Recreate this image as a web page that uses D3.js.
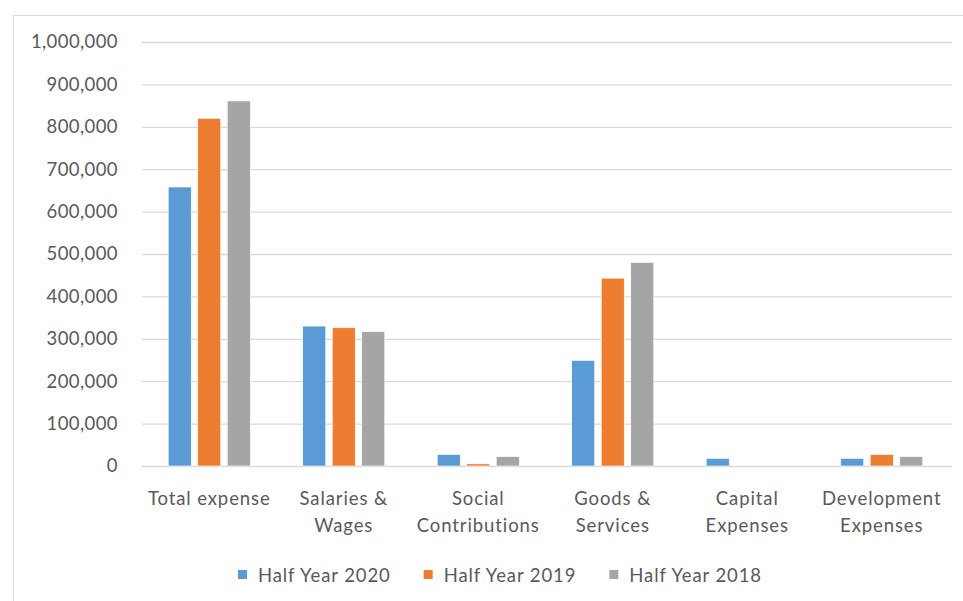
<!DOCTYPE html>
<html>
<head>
<meta charset="utf-8">
<script src="https://cdn.jsdelivr.net/npm/d3@7.9.0/dist/d3.min.js"></script>
<style>
  body { margin: 0; background: #fff; }
  svg { display: block; font-family: Lato, "Open Sans", sans-serif; }
</style>
</head>
<body>
<div id="chart"></div>
<script>
// Chart data
const categories = ['Total expense', 'Salaries & Wages', 'Social Contributions', 'Goods & Services', 'Capital Expenses', 'Development Expenses'];
const seriesNames = ['Half Year 2020', 'Half Year 2019', 'Half Year 2018'];
const half2020 = [658000, 330000, 27000, 249000, 18000, 18000];
const half2019 = [820000, 326000, 5000, 443000, 0, 27000];
const half2018 = [861000, 317000, 22000, 480000, 0, 22000];
const yTicks = [0, 100000, 200000, 300000, 400000, 500000, 600000, 700000, 800000, 900000, 1000000];
const colors = ['#5b9bd5', '#ed7d31', '#a5a5a5'];

const seriesValues = [half2020, half2019, half2018];

const width = 963;
const height = 601;
const plot = { left: 142, right: 949, top: 42, bottom: 466 };

const svg = d3.select('#chart')
  .append('svg')
  .attr('width', width)
  .attr('height', height);

// chart frame (cut off on right and bottom like the screenshot)
svg.append('rect')
  .attr('x', 13.5)
  .attr('y', 15.5)
  .attr('width', 970)
  .attr('height', 620)
  .attr('fill', '#fff')
  .attr('stroke', '#d9d9d9');

const x0 = d3.scaleBand()
  .domain(categories)
  .range([plot.left, plot.right])
  .paddingInner(0.39)
  .paddingOuter(0.195);

const x1 = d3.scaleBand()
  .domain(seriesNames)
  .range([0, x0.bandwidth()])
  .paddingInner(0.22);

const y = d3.scaleLinear()
  .domain([0, 1000000])
  .range([plot.bottom, plot.top]);

// gridlines
svg.append('g')
  .attr('class', 'gridlines')
  .attr('transform', `translate(${plot.left}, 0)`)
  .call(d3.axisLeft(y).tickValues(yTicks).tickFormat('').tickSize(-(plot.right + 3 - plot.left)))
  .call(g => g.select('.domain').remove())
  .call(g => g.selectAll('.tick line').attr('stroke', '#d9d9d9').attr('stroke-width', 1.3));

// y axis labels
svg.append('g')
  .attr('transform', `translate(${plot.left}, 0)`)
  .call(d3.axisLeft(y).tickValues(yTicks).tickFormat(d3.format(',')).tickSize(0).tickPadding(24))
  .call(g => g.select('.domain').remove())
  .call(g => g.selectAll('text')
    .attr('fill', '#595959')
    .style('font-size', '18.5px')
    .style('letter-spacing', '0.4px')
    .style('font-family', 'Lato, sans-serif'));

// bars
const groups = svg.append('g')
  .selectAll('g')
  .data(categories)
  .join('g')
  .attr('transform', d => `translate(${x0(d)}, 0)`);

groups.selectAll('rect')
  .data((d, i) => seriesNames.map((s, j) => ({ series: s, value: seriesValues[j][i], color: colors[j] })))
  .join('rect')
  .filter(d => d.value > 0)
  .attr('x', d => x1(d.series))
  .attr('y', d => y(d.value))
  .attr('width', x1.bandwidth())
  .attr('height', d => y(0) - y(d.value))
  .attr('fill', d => d.color)
  .attr('stroke', '#fff')
  .attr('stroke-width', 0.6);

// category labels with wrapping
const catLabels = svg.append('g')
  .selectAll('text')
  .data(categories)
  .join('text')
  .attr('x', d => x0(d) + x0.bandwidth() / 2)
  .attr('y', 505)
  .attr('text-anchor', 'middle')
  .attr('fill', '#595959')
  .style('font-size', '18.5px')
  .style('letter-spacing', '0.9px');

catLabels.each(function (d) {
  const text = d3.select(this);
  const words = d.split(' ');
  const maxWidth = x0.step() - 2;
  let lines = [];
  let line = [];
  const probe = text.append('tspan');
  words.forEach(w => {
    const test = line.concat([w]).join(' ');
    probe.text(test);
    if (probe.node().getComputedTextLength() > maxWidth && line.length) {
      lines.push(line.join(' '));
      line = [w];
    } else {
      line.push(w);
    }
  });
  lines.push(line.join(' '));
  probe.remove();
  lines.forEach((l, i) => {
    text.append('tspan')
      .attr('x', text.attr('x'))
      .attr('dy', i === 0 ? 0 : 26.5)
      .text(l);
  });
});

// legend
const legend = svg.append('g').attr('class', 'legend');
const items = legend.selectAll('g')
  .data(seriesNames)
  .join('g');

items.append('rect')
  .attr('width', 9)
  .attr('height', 9)
  .attr('y', 570)
  .attr('fill', (d, i) => colors[i]);

items.append('text')
  .attr('x', 20)
  .attr('y', 582)
  .attr('fill', '#595959')
  .style('font-size', '18.5px')
  .style('letter-spacing', '0.9px')
  .text(d => d);

let offset = 0;
const widths = [];
items.each(function () {
  widths.push(d3.select(this).select('text').node().getComputedTextLength());
});
const gap = 33;
const total = d3.sum(widths, w => w + 20) + gap * (widths.length - 1);
offset = 500 - total / 2;
items.attr('transform', (d, i) => {
  const tx = offset;
  offset += widths[i] + 20 + gap;
  return `translate(${tx}, 0)`;
});
</script>
</body>
</html>
